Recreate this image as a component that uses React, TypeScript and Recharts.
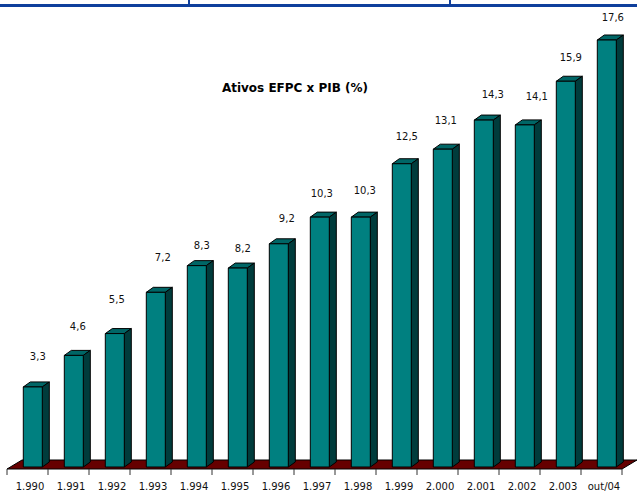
import { BarChart, Bar, XAxis, YAxis, LabelList, usePlotArea } from "recharts";

const years = ["1.990", "1.991", "1.992", "1.993", "1.994", "1.995", "1.996", "1.997", "1.998", "1.999", "2.000", "2.001", "2.002", "2.003", "out/04"];
const ratios = [3.3, 4.6, 5.5, 7.2, 8.3, 8.2, 9.2, 10.3, 10.3, 12.5, 13.1, 14.3, 14.1, 15.9, 17.6];

// hand placed labels of the original, relative to each bar
const labelShiftX = [5, 4, 2, 7, 5, 5, 8, 2, 4, 5, 3, 9, 12, 5, 6];
const labelLift = [31, 29, 35, 35, 21, 20, 26, 24, 27, 28, 29, 26, 29, 24, 23];

const data = years.map((year, i) => ({ year, ratio: ratios[i], i }));

const FONT = "'DejaVu Sans', sans-serif";
const SHIFT = 5.3; // bars sit right of band centre
const DX = 7;
const DY = 5;

const Bar3D = (props: any) => {
  const { x, y, width, height } = props;
  const l = x + SHIFT;
  const r = l + width;
  const b = y + height;
  return (
    <g stroke="#000" strokeWidth={1} strokeLinejoin="round">
      <path d={`M${l},${y} L${l + DX},${y - DY} L${r + DX},${y - DY} L${r},${y} Z`} fill="#006666" />
      <path d={`M${r},${y} L${r + DX},${y - DY} L${r + DX},${b - DY} L${r},${b} Z`} fill="#003c3c" />
      <rect x={l} y={y} width={width} height={height} fill="#008080" />
    </g>
  );
};

const Floor = () => {
  const plot = usePlotArea();
  if (!plot) return null;
  const left = plot.x;
  const right = plot.x + plot.width;
  const front = plot.y + plot.height + 2;
  const back = front - 9;
  return (
    <path
      d={`M${left},${front} L${left + 15},${back} L${right + 15},${back} L${right},${front} Z`}
      fill="#660000"
      stroke="#000"
    />
  );
};

const YearTick = (props: any) => {
  const { x, y, payload, index } = props;
  const half = 20.5;
  const top = y - 6;
  return (
    <g>
      <line x1={x - half} x2={x - half} y1={top} y2={top + 6} stroke="#333" />
      {index === years.length - 1 && <line x1={x + half} x2={x + half} y1={top} y2={top + 6} stroke="#333" />}
      <text x={x + 2.5} y={y + 15} textAnchor="middle" fontSize={10} fontFamily={FONT} fill="#111">
        {payload.value}
      </text>
    </g>
  );
};

const RatioLabel = (props: any) => {
  const { x, y, width, index, value } = props;
  return (
    <text
      x={x + SHIFT + width / 2 + labelShiftX[index]}
      y={y - labelLift[index] + 4}
      textAnchor="middle"
      fontSize={10}
      fontFamily={FONT}
      fill="#111"
    >
      {String(value).replace(".", ",")}
    </text>
  );
};

export default function App() {
  return (
    <div style={{ position: "absolute", left: 0, top: 0, width: 637, height: 491, overflow: "hidden", background: "#fff" }}>
      <div style={{ position: "absolute", left: 0, top: 4, width: 637, height: 3, background: "#0f3f9c" }} />
      <div style={{ position: "absolute", left: 188, top: 0, width: 2, height: 6, background: "#0f3f9c" }} />
      <div style={{ position: "absolute", left: 449, top: 0, width: 2, height: 6, background: "#0f3f9c" }} />
      <div
        style={{
          position: "absolute",
          left: 195,
          top: 81,
          width: 200,
          textAlign: "center",
          fontFamily: FONT,
          fontWeight: 700,
          fontSize: 12,
          lineHeight: "14px",
          color: "#000",
          whiteSpace: "nowrap",
        }}
      >
        Ativos EFPC x PIB (%)
      </div>
      <BarChart
        width={637}
        height={491}
        data={data}
        margin={{ top: 30.3, right: 15, bottom: 0, left: 7 }}
        style={{ position: "absolute", left: 0, top: 0 }}
      >
        <Floor />
        <XAxis dataKey="year" axisLine={false} tickLine={false} tick={<YearTick />} interval={0} height={24} />
        <YAxis hide domain={[0, 18]} />
        <Bar dataKey="ratio" barSize={19} shape={<Bar3D />} isAnimationActive={false}>
          <LabelList dataKey="ratio" content={<RatioLabel />} />
        </Bar>
      </BarChart>
    </div>
  );
}
